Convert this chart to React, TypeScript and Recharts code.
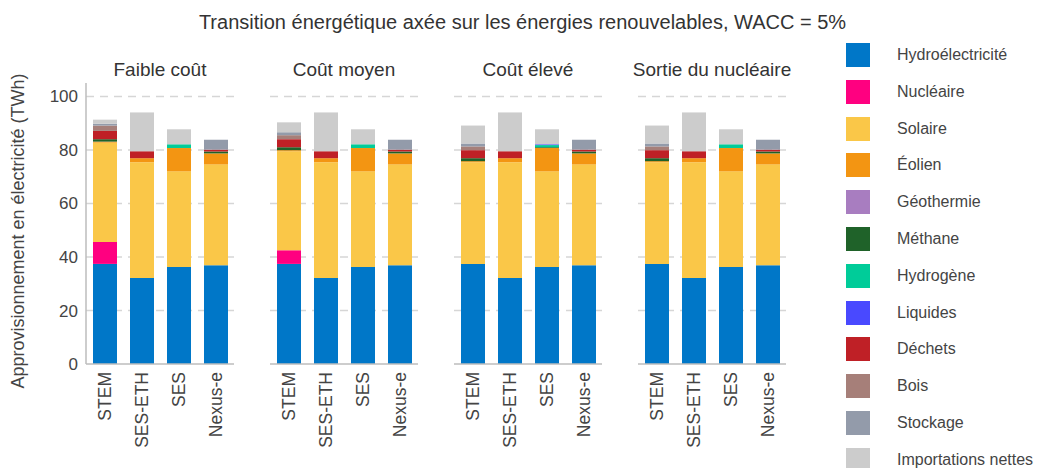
import { BarChart, Bar, XAxis, YAxis, CartesianGrid } from 'recharts'

// Models shown in every panel, and the four cost scenarios
const models = ['STEM', 'SES-ETH', 'SES', 'Nexus-e']
const scenarios = ['Faible coût', 'Coût moyen', 'Coût élevé', 'Sortie du nucléaire']
const yTicks = [0, 20, 40, 60, 80, 100]
const gridValues = [20, 40, 60, 80, 100]

// Values in TWh, one row per scenario, one column per model
const hydro = [
  [37.4, 32.1, 36.2, 36.9],
  [37.4, 32.1, 36.2, 36.9],
  [37.4, 32.1, 36.2, 36.9],
  [37.4, 32.1, 36.2, 36.9],
]
const nucleaire = [
  [8.2, 0, 0, 0],
  [5.1, 0, 0, 0],
  [0, 0, 0, 0],
  [0, 0, 0, 0],
]
const solaire = [
  [37.1, 43.3, 35.8, 37.7],
  [37.0, 43.3, 35.8, 37.7],
  [38.0, 43.3, 35.8, 37.7],
  [38.0, 43.3, 35.8, 37.7],
]
const eolien = [
  [0.4, 1.5, 8.7, 4.1],
  [0.4, 1.5, 8.7, 4.1],
  [0.4, 1.5, 8.7, 4.1],
  [0.4, 1.5, 8.7, 4.1],
]
const geothermie = [
  [0, 0, 0, 0],
  [0, 0, 0, 0],
  [0, 0, 0, 0],
  [0, 0, 0, 0],
]
const methane = [
  [0.9, 0, 0, 0.7],
  [1.1, 0, 0, 0.7],
  [1.1, 0, 0.3, 0.7],
  [1.1, 0, 0, 0.7],
]
const hydrogene = [
  [0, 0, 1.4, 0],
  [0, 0, 1.4, 0],
  [0, 0, 0.8, 0],
  [0, 0, 1.4, 0],
]
const liquides = [
  [0, 0, 0, 0],
  [0, 0, 0, 0],
  [0, 0, 0.3, 0],
  [0, 0, 0, 0],
]
const dechets = [
  [3.1, 2.6, 0, 0.7],
  [3.0, 2.6, 0, 0.7],
  [3.0, 2.6, 0, 0.7],
  [3.0, 2.6, 0, 0.7],
]
const bois = [
  [2.0, 0, 0, 0],
  [1.5, 0, 0, 0],
  [1.4, 0, 0, 0],
  [1.4, 0, 0, 0],
]
const stockage = [
  [0.7, 0, 0, 3.7],
  [1.1, 0, 0, 3.7],
  [1.1, 0, 0, 3.7],
  [1.1, 0, 0, 3.7],
]
const importations = [
  [1.5, 14.5, 5.6, 0],
  [3.7, 14.5, 5.6, 0],
  [6.7, 14.5, 5.6, 0],
  [6.7, 14.5, 5.6, 0],
]

const SERIES = [
  { key: 'hydro', label: 'Hydroélectricité', color: '#0077C8', values: hydro },
  { key: 'nucleaire', label: 'Nucléaire', color: '#FF0080', values: nucleaire },
  { key: 'solaire', label: 'Solaire', color: '#FAC748', values: solaire },
  { key: 'eolien', label: 'Éolien', color: '#F39512', values: eolien },
  { key: 'geothermie', label: 'Géothermie', color: '#A87DC0', values: geothermie },
  { key: 'methane', label: 'Méthane', color: '#1F6229', values: methane },
  { key: 'hydrogene', label: 'Hydrogène', color: '#00CC99', values: hydrogene },
  { key: 'liquides', label: 'Liquides', color: '#4949FF', values: liquides },
  { key: 'dechets', label: 'Déchets', color: '#BF2026', values: dechets },
  { key: 'bois', label: 'Bois', color: '#A67F79', values: bois },
  { key: 'stockage', label: 'Stockage', color: '#939BAA', values: stockage },
  { key: 'importations', label: 'Importations nettes', color: '#CCCCCC', values: importations },
]

const FONT = '"Liberation Sans", Arial, sans-serif'
const TEXT = '#444'

// rotated model names under each bar
function ModelTick({ x, y, payload }: { x?: number; y?: number; payload?: { value: string } }) {
  if (x == null || y == null || !payload) return null
  return (
    <text
      x={x}
      y={y}
      dy="0.35em"
      transform={`rotate(-90, ${x}, ${y})`}
      textAnchor="end"
      fill={TEXT}
      style={{ fontSize: 17.5, fontFamily: FONT }}
    >
      {payload.value}
    </text>
  )
}

function Panel({ index }: { index: number }) {
  const first = index === 0
  const data = models.map((m, j) => {
    const row: Record<string, string | number> = { model: m }
    SERIES.forEach(s => { row[s.key] = s.values[index][j] })
    return row
  })
  const yw = first ? 86 : 0
  return (
    <div style={{ position: 'absolute', left: first ? 0 : 86 + index * 184, top: 0 }}>
      <BarChart
        width={yw + 148}
        height={468}
        data={data}
        margin={{ top: 83, right: 0, bottom: 0, left: 0 }}
      >
        <CartesianGrid
          vertical={false}
          horizontalValues={gridValues}
          stroke="#d6d6d6"
          strokeWidth={1.5}
          strokeDasharray="8 6"
        />
        <XAxis
          dataKey="model"
          height={104}
          interval={0}
          axisLine={{ stroke: '#bdbdbd', strokeWidth: 1.5 }}
          tickLine={false}
          tick={<ModelTick />}
        />
        <YAxis
          hide={!first}
          width={yw}
          domain={[0, 105]}
          ticks={yTicks}
          axisLine={{ stroke: '#bdbdbd', strokeWidth: 1.5 }}
          tickLine={false}
          tick={{ fill: TEXT, fontSize: 17, fontFamily: FONT }}
        />
        {SERIES.map(s => (
          <Bar
            key={s.key}
            dataKey={s.key}
            stackId="a"
            fill={s.color}
            barSize={24}
            isAnimationActive={false}
          />
        ))}
      </BarChart>
      <div
        style={{
          position: 'absolute', left: yw - 20, top: 59, width: 188, textAlign: 'center',
          fontSize: 19, color: '#333', fontFamily: FONT, whiteSpace: 'nowrap',
        }}
      >
        {scenarios[index]}
      </div>
    </div>
  )
}

export default function App() {
  return (
    <div
      style={{
        position: 'fixed', left: 0, top: 0, width: 1045, height: 468,
        background: '#fff', fontFamily: FONT, overflow: 'hidden',
      }}
    >
      {/* ── Title ─────────────────────────────────────────── */}
      <div
        style={{
          position: 'absolute', left: 0, top: 11, width: 1045, textAlign: 'center',
          fontSize: 20, color: '#333',
        }}
      >
        Transition énergétique axée sur les énergies renouvelables, WACC = 5%
      </div>

      {/* ── Y axis label ──────────────────────────────────── */}
      <div style={{ position: 'absolute', left: 18, top: 231, width: 0, height: 0 }}>
        <div
          style={{
            position: 'absolute', transform: 'translate(-50%, -50%) rotate(-90deg)',
            whiteSpace: 'nowrap', fontSize: 18, color: TEXT,
          }}
        >
          Approvisionnement en électricité (TWh)
        </div>
      </div>

      {scenarios.map((_, i) => <Panel key={i} index={i} />)}

      {/* ── Legend ─────────────────────────────────────────── */}
      {SERIES.map((s, i) => (
        <div
          key={s.key}
          style={{ position: 'absolute', left: 846, top: 55 + i * 36.8 - 12, height: 24, display: 'flex', alignItems: 'center' }}
        >
          <div style={{ width: 24, height: 24, background: s.color }} />
          <span style={{ marginLeft: 27, fontSize: 16, color: TEXT, whiteSpace: 'nowrap' }}>{s.label}</span>
        </div>
      ))}
    </div>
  )
}
